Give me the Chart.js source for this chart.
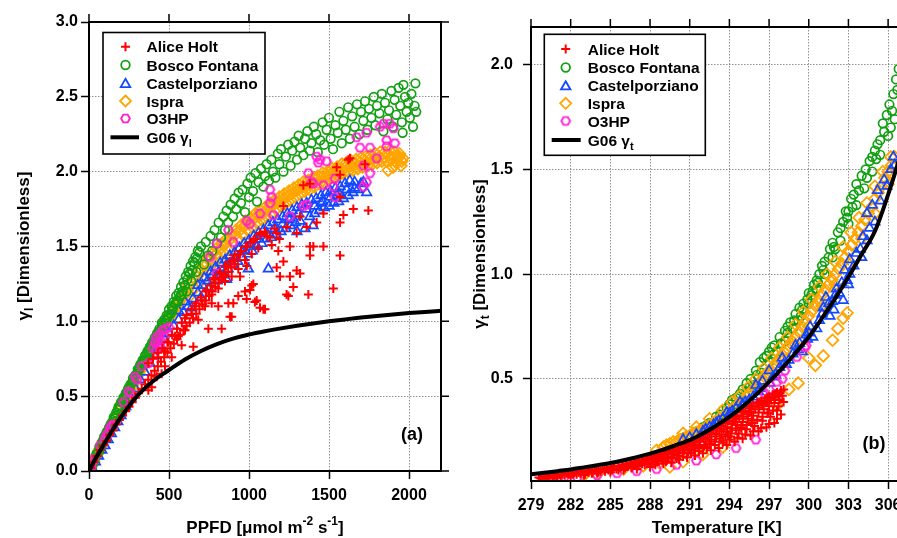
<!DOCTYPE html>
<html><head><meta charset="utf-8">
<script src="https://cdn.jsdelivr.net/npm/chart.js@4/dist/chart.umd.min.js"></script>
<style>
html,body{margin:0;padding:0;background:#fff;overflow:hidden;width:897px;height:538px;position:relative}
#ca{position:absolute;left:0;top:0}
#cb{position:absolute;left:450px;top:0}
</style></head><body>
<canvas id="ca" width="470" height="538"></canvas>
<canvas id="cb" width="490" height="538"></canvas>
<script>
// ---------- tick labels ----------
const aXTicks = [0, 500, 1000, 1500, 2000];
const aYTicks = [0, 0.5, 1.0, 1.5, 2.0, 2.5, 3.0];
const bXTicks = [279, 282, 285, 288, 291, 294, 297, 300, 303, 306];
const bYTicks = [0.5, 1.0, 1.5, 2.0];
const siteNames = ['Alice Holt', 'Bosco Fontana', 'Castelporziano', 'Ispra', 'O3HP'];

// ---------- panel (a): PPFD vs gamma_l (flat x,y pairs) ----------
const aAliceHolt = [
10,0.02, 30,0.06, 50,0.10, 70,0.14, 90,0.17, 110,0.20, 130,0.24, 150,0.27, 170,0.31, 190,0.34, 210,0.37, 230,0.40, 250,0.43, 270,0.46, 290,0.49, 310,0.52, 330,0.55, 350,0.58, 370,0.61, 390,0.64, 410,0.67, 430,0.70, 450,0.73, 470,0.76, 490,0.79, 510,0.82, 530,0.85, 550,0.88, 570,0.91, 590,0.94, 610,0.97, 630,0.99, 650,1.02, 670,1.05, 690,1.08, 710,1.11, 730,1.14, 750,1.17, 770,1.20, 790,1.23, 810,1.26, 830,1.28, 850,1.31, 870,1.33, 890,1.36, 910,1.38, 930,1.41,
400,0.75, 430,0.79, 460,0.82, 490,0.86, 520,0.91, 550,0.95, 580,0.99, 610,1.04, 640,1.08, 670,1.12, 700,1.16, 730,1.20, 760,1.24, 790,1.29, 820,1.33, 850,1.37, 880,1.40, 910,1.44, 950,1.47, 980,1.50, 1010,1.53, 1040,1.55, 1070,1.58, 1100,1.60, 1130,1.56, 1160,1.62, 1190,1.55,
1631,2.09, 1548,2.03, 1569,1.98, 1340,1.91, 1381,1.92, 1215,1.77, 1569,1.83, 1652,1.75, 1746,1.74, 1590,1.71, 1465,1.72, 1423,1.66, 1360,1.63, 1319,1.70, 1298,1.59, 1235,1.63, 1173,1.59, 1110,1.57, 1069,1.59, 1027,1.54, 986,1.50, 944,1.45, 902,1.41, 860,1.37, 819,1.32, 777,1.28, 735,1.21, 1256,1.50, 1381,1.50, 1465,1.50, 1569,1.44, 1527,1.22, 1215,1.40, 1173,1.36, 1298,1.34, 1319,1.32, 1256,1.30, 1194,1.30, 1277,1.23, 1246,1.17, 1371,1.18, 1027,1.25, 1006,1.21, 1048,1.14, 1069,1.09, 1090,1.08, 985,1.15, 902,1.12, 881,1.03, 944,1.30, 986,1.37, 840,1.30, 1037,1.13, 1100,1.08, 892,1.03, 829,0.95, 746,0.95, 652,0.83, 454,0.65, 475,0.70, 423,0.63, 392,0.56, 371,0.54, 517,0.76, 579,0.84, 600,0.94, 558,0.90, 683,1.01, 642,1.05, 725,1.10, 767,1.12, 808,1.10, 871,1.12, 933,1.17, 975,1.20, 1017,1.24, 475,0.80, 496,0.86, 538,0.90, 600,1.02, 662,1.10, 704,1.14, 767,1.18, 808,1.22, 850,1.27, 892,1.30, 933,1.35, 975,1.41, 1017,1.45, 1058,1.49, 1142,1.51, 1183,1.47, 371,0.72, 433,0.76, 1621,2.08, 1725,2.05, 1569,1.66, 1402,1.50, 1381,1.44, 1235,1.18
];
const aBoscoFontana = [
5,0.01, 15,0.04, 30,0.07, 45,0.11, 60,0.13, 75,0.17, 90,0.21, 105,0.24, 120,0.27, 135,0.31, 150,0.33, 165,0.37, 180,0.41, 195,0.44, 210,0.46, 225,0.50, 240,0.53, 255,0.55, 270,0.59, 285,0.63, 300,0.65, 315,0.69, 330,0.72, 345,0.74, 360,0.78, 375,0.81, 390,0.84, 405,0.86, 420,0.89, 435,0.93, 450,0.95, 465,0.97, 480,1.01, 495,1.04, 510,1.05, 525,1.09, 540,1.12, 555,1.13, 570,1.17, 585,1.20, 600,1.24, 615,1.28, 630,1.32, 645,1.34, 660,1.39, 675,1.42, 690,1.46,
20,0.03, 40,0.09, 70,0.15, 100,0.22, 130,0.29, 160,0.35, 190,0.42, 220,0.48, 250,0.56, 280,0.61, 310,0.67, 340,0.73, 370,0.80, 400,0.85, 430,0.91, 460,0.98, 490,1.02, 520,1.07, 550,1.14, 580,1.18, 610,1.20, 640,1.27, 670,1.33, 700,1.50, 720,1.38,
10,0.02, 25,0.05, 35,0.08, 50,0.12, 65,0.16, 80,0.19, 95,0.23, 110,0.26, 125,0.29, 140,0.32, 155,0.36, 170,0.39, 185,0.43, 200,0.46, 215,0.49, 230,0.52, 245,0.55, 260,0.58, 275,0.62, 290,0.64, 305,0.68, 320,0.71, 335,0.74, 350,0.77, 365,0.80, 380,0.83, 395,0.86, 410,0.89, 425,0.92, 440,0.95, 455,0.99, 470,1.01, 485,1.04, 500,1.08, 515,1.10, 530,1.13, 545,1.17, 560,1.19, 575,1.23, 590,1.26, 605,1.30, 620,1.33, 635,1.37, 650,1.40, 665,1.43, 680,1.47,
730,1.53, 745,1.44, 760,1.57, 770,1.47, 785,1.61, 800,1.52, 810,1.66, 825,1.56, 840,1.70, 850,1.61, 860,1.74, 870,1.66, 885,1.78, 900,1.70, 910,1.82, 920,1.75, 935,1.86, 950,1.79, 960,1.88, 975,1.73, 990,1.92, 1000,1.83, 1010,1.96, 1025,1.87, 1040,1.99, 1050,1.80, 1060,1.93, 1075,2.02, 1090,1.90, 1100,1.97, 1110,2.05, 1125,1.94, 1140,2.08, 1150,2.00, 1165,1.96, 1180,2.12, 1190,2.05, 1200,2.15, 1215,2.00, 1230,2.10, 1245,2.18, 1260,2.04, 1270,2.14, 1285,2.20, 1300,2.08, 1310,2.24, 1320,2.16, 1340,2.11, 1350,2.22, 1365,2.27, 1380,2.14, 1390,2.19, 1405,2.30, 1420,2.25, 1430,2.13, 1445,2.21, 1460,2.33, 1470,2.18, 1485,2.28, 1500,2.36, 1510,2.22, 1525,2.15, 1540,2.31, 1555,2.26, 1565,2.40, 1580,2.19, 1590,2.34, 1605,2.28, 1620,2.43, 1630,2.22, 1645,2.37, 1660,2.30, 1675,2.45, 1690,2.25, 1700,2.40, 1715,2.34, 1725,2.47, 1740,2.28, 1750,2.42, 1765,2.36, 1780,2.50, 1790,2.31, 1800,2.44, 1815,2.39, 1830,2.52, 1840,2.27, 1850,2.46, 1865,2.35, 1875,2.41, 1890,2.54, 1900,2.30, 1910,2.48, 1920,2.38, 1935,2.56, 1945,2.44, 1955,2.33, 1965,2.58, 1975,2.50, 1985,2.40, 1995,2.46, 2005,2.36, 2015,2.52, 2025,2.30, 2035,2.44, 2040,2.59, 2045,2.40, 1960,2.26
];
const aCastelporziano = [
20,0.02, 40,0.06, 60,0.10, 80,0.14, 100,0.17, 120,0.21, 140,0.25, 160,0.29, 180,0.33, 200,0.37, 230,0.43, 260,0.49, 290,0.55, 320,0.61, 350,0.66, 380,0.72, 410,0.77, 440,0.83, 470,0.88, 500,0.92, 530,0.97, 560,1.01, 590,1.06, 620,1.10, 650,1.15, 680,1.19, 710,1.24, 740,1.27, 770,1.31,
560,1.07, 600,1.13, 640,1.09, 680,1.24, 700,1.16, 720,1.29, 750,1.22, 760,1.33, 790,1.36, 800,1.27, 820,1.39, 840,1.31, 850,1.41, 870,1.35, 880,1.44, 900,1.38, 910,1.46, 930,1.40, 940,1.49, 960,1.43, 970,1.52, 990,1.45, 1000,1.54, 1020,1.47, 1030,1.57, 1050,1.50, 1060,1.59, 1080,1.52, 1090,1.61, 1110,1.55, 1120,1.64, 1140,1.56, 1150,1.66, 1170,1.58, 1180,1.68, 1200,1.60, 1210,1.70, 1230,1.62, 1240,1.72, 1260,1.64, 1270,1.74, 1290,1.66, 1300,1.76, 1320,1.67, 1330,1.78, 1350,1.62, 1360,1.79, 1380,1.70, 1390,1.81, 1410,1.72, 1420,1.82, 1440,1.74, 1450,1.84, 1470,1.76, 1480,1.86, 1500,1.77, 1510,1.87, 1530,1.79, 1540,1.89, 1560,1.80, 1570,1.90, 1590,1.82, 1600,1.92, 1620,1.84, 1630,1.94, 1650,1.86, 1660,1.93, 1680,1.88, 1700,1.92, 1715,1.93, 1735,1.86, 1250,1.68, 1450,1.79, 1550,1.84,
810,1.33, 860,1.38, 910,1.42, 960,1.47, 1010,1.51, 1060,1.55, 1110,1.59, 1160,1.62, 1210,1.65, 1260,1.69, 1310,1.72, 1360,1.75, 1410,1.77, 1460,1.80, 1510,1.83, 1560,1.86, 1610,1.88, 1660,1.89,
996,1.35, 1121,1.35, 860,1.28, 1400,1.64, 1300,1.60
];
const aIspra = [
20,0.04, 40,0.09, 60,0.13, 80,0.18, 100,0.21, 120,0.26, 140,0.30, 160,0.35, 180,0.38, 200,0.43, 220,0.47, 240,0.51, 260,0.55, 280,0.59, 300,0.63, 320,0.67, 340,0.71, 360,0.75, 380,0.79, 400,0.83, 420,0.87, 440,0.91, 460,0.95, 480,0.99, 500,1.02, 520,1.05, 540,1.09, 560,1.12, 580,1.15, 600,1.18,
30,0.06, 50,0.11, 70,0.15, 90,0.20, 110,0.24, 130,0.28, 150,0.32, 170,0.36, 190,0.41, 210,0.45, 230,0.49, 250,0.53, 270,0.57, 290,0.61, 310,0.65, 330,0.69, 350,0.73, 370,0.77, 390,0.81, 410,0.85, 430,0.89, 450,0.93, 470,0.97, 490,1.00, 510,1.04, 530,1.07, 550,1.10, 570,1.14, 590,1.17,
620,1.25, 630,1.17, 650,1.29, 660,1.22, 680,1.33, 690,1.26, 710,1.38, 720,1.30, 740,1.42, 750,1.35, 770,1.45, 780,1.39, 800,1.49, 810,1.42, 830,1.52, 840,1.46, 860,1.55, 870,1.48, 890,1.58, 900,1.52, 920,1.61, 930,1.55, 950,1.64, 960,1.58, 980,1.67, 990,1.61, 1010,1.69, 1020,1.63, 1040,1.72, 1050,1.66, 1070,1.74, 1080,1.68, 1100,1.76, 1110,1.70, 1130,1.79, 1140,1.72, 1160,1.81, 1170,1.75, 1190,1.83, 1200,1.77, 1220,1.85, 1230,1.79, 1250,1.87, 1260,1.81, 1280,1.89, 1290,1.83, 1310,1.91, 1320,1.85, 1340,1.93, 1350,1.87, 1370,1.94, 1380,1.88, 1400,1.96, 1410,1.90, 1430,1.97, 1440,1.92, 1460,1.99, 1470,1.93, 1490,2.00, 1500,1.95, 1520,2.02, 1530,1.96, 1550,2.03, 1560,1.97, 1580,2.05, 1590,1.99, 1610,2.06, 1620,2.00, 1640,2.07, 1650,2.01, 1670,2.08, 1680,2.02, 1700,2.09, 1710,2.03, 1730,2.10, 1740,2.04, 1760,2.11, 1770,2.05, 1790,2.12, 1800,2.06, 1820,2.13, 1830,2.07, 1850,2.13, 1860,2.07, 1880,2.14, 1890,2.08, 1910,2.13, 1920,2.06, 1940,2.12, 1950,2.04, 1930,2.09, 1960,2.09, 1900,2.03, 1870,2.01,
615,1.21, 645,1.26, 675,1.30, 705,1.34, 735,1.38, 765,1.42, 795,1.45, 825,1.49, 855,1.52, 885,1.55, 915,1.58, 945,1.61, 975,1.64, 1005,1.66, 1035,1.69, 1065,1.71, 1095,1.73, 1125,1.76, 1155,1.78, 1185,1.80, 1215,1.82, 1245,1.84, 1275,1.86, 1305,1.88, 1335,1.90, 1365,1.91, 1395,1.93, 1425,1.95, 1455,1.96, 1485,1.97, 1515,1.99, 1545,2.00, 1575,2.02, 1605,2.03, 1635,2.04, 1665,2.05, 1695,2.06, 1725,2.07, 1755,2.08, 1785,2.09, 1815,2.10, 1845,2.10, 1875,2.11, 1905,2.10, 1935,2.10, 1955,2.07
];
const aO3HP = [
5,0.01, 15,0.03, 20,0.06, 30,0.08, 69,0.17, 100,0.22, 110,0.24, 120,0.25, 131,0.29, 140,0.30, 150,0.31, 215,0.46, 246,0.53, 260,0.52, 287,0.63, 300,0.61, 330,0.70, 371,0.72, 400,0.82, 412,0.86, 420,0.89, 430,0.84, 440,0.91, 450,0.87, 460,0.94, 470,0.90, 480,0.95, 420,0.81, 445,0.83, 500,0.96,
756,1.43, 798,1.52, 798,1.32, 871,1.61, 902,1.53, 986,1.67, 1006,1.65, 1069,1.72, 1131,1.88, 1142,1.83, 1131,1.79, 1152,1.71, 1256,1.70, 1340,1.77, 1360,1.78, 1371,1.99, 1392,1.93, 1402,1.92, 1423,2.10, 1444,2.08, 1433,2.06, 1465,1.91, 1485,2.07, 1527,1.90, 1537,1.83, 1537,1.955, 1673,2.23, 1694,2.16, 1715,2.04, 1715,1.90, 1735,2.26, 1735,1.93, 1756,2.16, 1756,1.99, 1798,2.09, 1819,2.30, 1840,2.32, 1860,2.21, 1860,2.17, 1881,2.32, 1902,2.29, 1912,2.19
];
const aG06X = [0, 50, 100, 150, 200, 300, 400, 500, 600, 700, 800, 900, 1000, 1100, 1200, 1300, 1400, 1500, 1600, 1700, 1800, 1900, 2000, 2100, 2200];
const aG06Y = [0, 0.10, 0.19, 0.28, 0.36, 0.50, 0.60, 0.675, 0.745, 0.802, 0.848, 0.884, 0.912, 0.934, 0.953, 0.970, 0.985, 1.000, 1.013, 1.025, 1.036, 1.046, 1.055, 1.063, 1.070];

// ---------- panel (b): Temperature vs gamma_t ----------
const bAliceHolt = [
279.6,0.03, 279.9,0.035, 280.2,0.035, 280.5,0.04, 280.8,0.04, 281.1,0.045, 281.4,0.045, 281.7,0.05, 282.0,0.05, 282.3,0.055, 282.6,0.055, 282.9,0.06, 283.2,0.06, 283.5,0.065, 283.8,0.065, 284.1,0.07, 284.4,0.07, 284.7,0.075, 285.0,0.08, 285.3,0.085, 285.6,0.085, 285.9,0.09, 286.2,0.095, 286.5,0.10,
281.0,0.03, 282.0,0.035, 283.0,0.04, 284.0,0.05, 285.0,0.055, 286.0,0.065,
279.75,0.025, 280.05,0.03, 280.35,0.03, 280.65,0.035, 280.95,0.035, 281.25,0.04, 281.55,0.04, 281.85,0.045, 282.15,0.045, 282.45,0.045, 282.75,0.05, 283.05,0.05, 283.35,0.055, 283.65,0.055, 283.95,0.06, 284.25,0.06, 284.55,0.065, 284.85,0.065, 285.15,0.07, 285.45,0.07, 285.75,0.075, 286.05,0.08, 286.35,0.085, 286.65,0.09, 286.95,0.10, 287.25,0.10, 287.55,0.105, 287.85,0.115, 288.15,0.12, 288.45,0.125, 288.75,0.13, 289.05,0.14, 289.35,0.145, 289.65,0.15, 289.95,0.155, 290.25,0.165, 290.55,0.17, 290.85,0.18, 291.15,0.185, 291.45,0.195, 291.75,0.205, 292.05,0.215, 292.35,0.22, 292.65,0.235, 292.95,0.24, 293.25,0.25, 293.55,0.26, 293.85,0.27, 294.15,0.285, 294.45,0.295, 294.75,0.31, 295.05,0.32, 295.35,0.33, 295.65,0.345, 295.95,0.355, 296.25,0.365, 296.55,0.38, 296.85,0.39, 297.15,0.40, 297.45,0.41, 297.75,0.42,
286.8,0.105, 287.1,0.11, 287.4,0.115, 287.7,0.12, 288.0,0.13, 288.3,0.135, 288.6,0.14, 288.9,0.145, 289.2,0.15, 289.5,0.16, 289.8,0.165, 290.1,0.175, 290.4,0.18, 290.7,0.19, 291.0,0.195, 291.3,0.205, 291.6,0.215, 291.9,0.225, 292.2,0.235, 292.5,0.245, 292.8,0.255, 293.1,0.265, 293.4,0.275, 293.7,0.29, 294.0,0.30, 294.3,0.315, 294.6,0.325, 294.9,0.34, 295.2,0.35, 295.5,0.36, 295.8,0.375, 296.1,0.385, 296.4,0.395, 296.7,0.405, 297.0,0.415, 297.3,0.425, 297.6,0.435, 297.9,0.445,
286.6,0.08, 287.0,0.09, 287.4,0.095, 287.8,0.10, 288.2,0.11, 288.6,0.115, 289.0,0.125, 289.4,0.13, 289.8,0.14, 290.2,0.15, 290.6,0.16, 291.0,0.165, 291.4,0.175, 291.8,0.185, 292.2,0.20, 292.6,0.21, 293.0,0.225, 293.4,0.235, 293.8,0.25, 294.2,0.265, 294.6,0.28, 295.0,0.295, 295.4,0.31, 295.8,0.325, 296.2,0.34, 296.6,0.355, 297.0,0.37, 297.4,0.385, 297.8,0.40, 298.0,0.42,
287.0,0.07, 288.0,0.08, 289.0,0.095, 289.6,0.10, 290.2,0.115, 290.8,0.125, 291.4,0.135, 292.0,0.145, 292.6,0.16, 293.2,0.17, 293.8,0.185, 294.4,0.20, 295.0,0.215, 295.6,0.23, 296.2,0.25, 296.8,0.27, 297.4,0.29, 297.9,0.33,
288.4,0.09, 289.2,0.105, 290.0,0.12, 290.5,0.13, 291.1,0.145, 291.7,0.155, 292.3,0.17, 292.9,0.185, 293.5,0.195, 294.0,0.21, 294.6,0.22, 295.2,0.235, 295.8,0.25, 296.4,0.265, 297.0,0.285, 297.6,0.31, 296.9,0.34, 295.7,0.30, 294.9,0.27, 293.9,0.23,
293.5,0.205, 294.1,0.225, 294.7,0.24, 295.3,0.26, 295.9,0.275, 296.5,0.30, 297.1,0.32, 297.6,0.35, 294.5,0.31, 295.5,0.34, 296.5,0.375,
288.1,0.10, 288.5,0.105, 288.9,0.115, 289.3,0.12, 289.7,0.125, 290.1,0.135, 290.5,0.145, 290.9,0.15, 291.3,0.16, 291.7,0.17, 292.1,0.18, 292.5,0.19, 292.9,0.20, 293.3,0.215, 293.7,0.225, 294.1,0.24, 294.5,0.255, 294.9,0.265, 295.3,0.28, 295.7,0.29, 296.1,0.305, 296.5,0.32, 296.9,0.335, 297.3,0.35, 297.7,0.37, 298.1,0.39,
283.1,0.045, 283.6,0.05, 284.1,0.055, 284.6,0.06, 285.1,0.065, 285.6,0.065, 286.1,0.075, 286.6,0.075, 287.1,0.085, 287.6,0.09,
293.25,0.28, 293.85,0.30, 294.45,0.32, 295.05,0.345, 295.65,0.37, 296.25,0.39, 296.85,0.41, 297.45,0.43, 298.1,0.45
];
const bBoscoFontana = [
290.5,0.22, 291.5,0.25, 292.0,0.27, 292.5,0.29, 293.0,0.32, 293.5,0.35, 294.0,0.38, 294.5,0.41, 295.0,0.45, 295.3,0.48, 295.6,0.50, 296.0,0.54, 296.3,0.58, 296.6,0.60, 297.0,0.63, 297.4,0.66, 297.8,0.70, 298.2,0.73, 298.6,0.77, 299.0,0.81, 299.3,0.84, 299.6,0.86, 300.0,0.91, 300.4,0.95, 300.8,1.00, 301.2,1.06, 301.6,1.12, 301.8,1.15, 302.2,1.20, 302.6,1.25, 302.8,1.30, 303.2,1.36, 303.6,1.43, 304.0,1.47, 304.3,1.50, 304.6,1.54, 305.0,1.59, 305.4,1.64, 305.6,1.72, 305.9,1.76, 306.1,1.81, 306.4,1.86, 306.6,1.93, 306.8,1.98,
294.5,0.38, 295.2,0.42, 295.8,0.47, 296.4,0.53, 297.0,0.58, 297.6,0.63, 298.2,0.68, 298.8,0.74, 299.4,0.80, 300.0,0.86, 300.6,0.93, 301.2,1.00, 301.8,1.08, 302.4,1.16, 303.0,1.24, 303.6,1.33, 304.2,1.41, 304.8,1.49, 305.4,1.57, 306.0,1.66, 306.5,1.74,
292.3,0.28, 293.3,0.33, 293.8,0.36, 294.2,0.40, 294.8,0.43, 295.5,0.46, 296.1,0.52, 296.8,0.61, 297.2,0.65, 297.9,0.67, 298.4,0.72, 298.9,0.78, 299.5,0.83, 299.9,0.88, 300.3,0.92, 300.7,0.96, 301.1,1.02, 301.5,1.08, 301.9,1.13, 302.4,1.22, 302.9,1.27, 303.3,1.32, 303.8,1.40, 304.4,1.46, 305.1,1.55, 305.7,1.68, 306.3,1.78, 306.7,1.88,
297.4,0.62, 298.4,0.75, 299.2,0.78, 300.2,0.90, 301.0,1.04, 302.0,1.12, 303.4,1.38, 304.8,1.56, 305.2,1.62, 306.2,1.70, 303.0,1.30, 300.6,0.97
];
const bCastelporziano = [
291.0,0.22, 291.5,0.235, 292.0,0.25, 292.5,0.27, 293.0,0.29, 293.5,0.31, 294.0,0.335, 294.5,0.36, 295.0,0.38, 295.5,0.40, 295.8,0.414, 296.2,0.44, 296.5,0.49, 297.05,0.48, 297.5,0.52, 298.1,0.57, 298.3,0.57, 298.8,0.62, 299.3,0.67, 299.8,0.71, 300.1,0.75, 300.3,0.70, 300.8,0.78, 301.3,0.89, 301.6,0.80, 301.9,0.83, 302.3,0.91, 302.6,0.875, 302.7,1.02, 303.1,1.00, 303.1,1.07, 303.6,1.10, 304.1,1.18, 304.4,1.16, 304.4,1.29, 304.8,1.33, 305.2,1.40, 305.7,1.45, 306.2,1.50, 306.4,1.56,
293.8,0.34, 294.8,0.39, 296.0,0.47, 297.0,0.54, 298.0,0.60, 299.0,0.66, 300.0,0.72, 301.0,0.81, 302.0,0.90, 303.0,0.95, 304.0,1.08, 305.0,1.25, 299.5,0.63, 301.5,0.86, 302.5,0.96, 292.8,0.28, 290.5,0.21,
292.2,0.26, 293.2,0.30, 294.2,0.345, 295.2,0.39, 296.3,0.455, 297.3,0.51, 297.8,0.555, 298.5,0.59, 299.2,0.64, 299.9,0.69, 300.6,0.74, 301.1,0.84, 301.8,0.87, 302.1,0.93, 302.9,0.97, 303.4,1.04, 303.9,1.12, 304.6,1.22, 305.4,1.35, 305.9,1.42, 306.5,1.52
];
const bIspra = [
288.5,0.16, 289.0,0.175, 289.5,0.19, 290.0,0.20, 290.5,0.215, 291.0,0.23, 291.5,0.245, 292.0,0.26, 292.5,0.28, 293.0,0.30, 293.5,0.32, 294.0,0.345, 294.5,0.37, 295.0,0.40, 295.5,0.43, 296.0,0.46, 296.5,0.50, 297.0,0.54, 297.5,0.575, 298.0,0.615, 298.5,0.66, 299.0,0.70, 299.5,0.75, 300.0,0.80, 300.5,0.85, 301.0,0.90, 301.5,0.95, 302.0,1.00, 302.5,1.05, 303.0,1.11, 303.5,1.17, 304.0,1.23, 304.5,1.29, 305.0,1.36, 305.5,1.42, 306.0,1.49, 306.5,1.56,
290.5,0.24, 291.5,0.27, 292.5,0.31, 293.5,0.35, 294.2,0.39, 294.8,0.42, 295.4,0.46, 296.0,0.50, 296.6,0.55, 297.2,0.60, 297.8,0.65, 298.4,0.70, 299.0,0.76, 299.6,0.82, 300.2,0.88, 300.8,0.94, 301.4,1.00, 302.0,1.06, 302.6,1.13, 303.2,1.20, 303.8,1.27, 304.4,1.34, 305.0,1.42, 305.6,1.49, 306.2,1.56,
293.0,0.285, 294.0,0.33, 295.0,0.385, 296.0,0.45, 297.0,0.515, 298.0,0.585, 299.0,0.665, 300.0,0.75, 301.0,0.85, 302.0,0.95, 303.0,1.05, 304.0,1.17, 305.0,1.29, 306.0,1.43,
289.25,0.185, 289.75,0.20, 290.25,0.21, 290.75,0.225, 291.25,0.24, 291.75,0.255, 292.25,0.27, 292.75,0.29, 293.25,0.31, 293.75,0.335, 294.25,0.36, 294.75,0.385, 295.25,0.415, 295.75,0.445, 296.25,0.48, 296.75,0.52, 297.25,0.555, 297.75,0.595, 298.25,0.64, 298.75,0.68, 299.25,0.725, 299.75,0.775, 300.25,0.825, 300.75,0.875, 301.25,0.925, 301.75,0.975, 302.25,1.025, 302.75,1.08, 303.25,1.14, 303.75,1.20, 304.25,1.26, 304.75,1.32, 305.25,1.39, 305.75,1.46, 306.25,1.52,
297.6,0.375, 299.2,0.48, 300.5,0.565, 301.1,0.61, 301.8,0.685, 302.2,0.74, 302.6,0.79, 302.9,0.815, 300.0,0.60, 298.5,0.45,
288.7,0.10, 289.5,0.08, 287.5,0.085, 286.0,0.07, 284.0,0.045, 283.0,0.04, 290.5,0.105, 292.0,0.14, 293.5,0.175
];
const bO3HP = [
280.5,0.025, 281.0,0.02, 281.5,0.03, 282.5,0.03, 284.0,0.04, 285.5,0.05, 287.0,0.06, 288.5,0.07, 290.0,0.09, 291.5,0.11, 293.0,0.14, 294.5,0.17, 296.0,0.21,
296.7,0.43, 297.6,0.486, 298.2,0.54, 299.1,0.605, 299.7,0.65, 299.8,0.66, 297.0,0.45, 298.0,0.50
];
const bG06X = [279, 280, 281, 282, 283, 284, 285, 286, 287, 288, 289, 290, 291, 292, 293, 294, 295, 296, 297, 298, 299, 300, 301, 302, 303, 304, 305, 306, 307];
const bG06Y = [0.045, 0.052, 0.060, 0.068, 0.078, 0.088, 0.099, 0.112, 0.127, 0.144, 0.163, 0.185, 0.208, 0.240, 0.277, 0.319, 0.368, 0.424, 0.486, 0.552, 0.624, 0.700, 0.790, 0.885, 0.987, 1.095, 1.205, 1.38, 1.58];

// ---------- styling ----------
const FONT = '"Liberation Sans", Arial, Helvetica, sans-serif';
const COL = {red:'#ff0000', green:'#12a012', blue:'#1448ff', orange:'#ffa500', magenta:'#ff1ed2'};
Chart.defaults.font.family = FONT;
Chart.defaults.font.weight = 'bold';
Chart.defaults.color = '#000';

function hexCanvas(color, r, lw){
  const s = Math.ceil(2*r + lw + 2);
  const c = document.createElement('canvas'); c.width = s; c.height = s;
  const g = c.getContext('2d'); g.strokeStyle = color; g.lineWidth = lw;
  g.beginPath();
  for (let i = 0; i < 6; i++){ const a = i*Math.PI/3; const x = s/2 + r*Math.cos(a), y = s/2 + r*Math.sin(a); if (i) g.lineTo(x,y); else g.moveTo(x,y); }
  g.closePath(); g.stroke(); return c;
}
const HEX = hexCanvas(COL.magenta, 4.4, 1.8);

function toXY(flat){ const r = []; for (let i = 0; i < flat.length; i += 2) r.push({x: flat[i], y: flat[i+1]}); return r; }
function sc(label, flat, style, color, radius, bw, order){
  return {type:'scatter', label, data: toXY(flat), pointStyle: style, pointRadius: radius, pointHoverRadius: radius,
    pointBorderColor: color, pointBackgroundColor: 'rgba(0,0,0,0)', pointBorderWidth: bw, showLine: false, order};
}
function curve(label, xs, ys){
  return {type:'line', label, data: xs.map((x,i)=>({x, y: ys[i]})), borderColor:'#000', borderWidth:4,
    pointRadius:0, cubicInterpolationMode:'monotone', fill:false, order:0};
}

function drawRich(ctx, parts, x, y, rot, align){
  ctx.save(); ctx.translate(x, y); ctx.rotate(rot || 0);
  let w = 0;
  parts.forEach(p => { ctx.font = 'bold ' + p[1] + 'px ' + FONT; w += ctx.measureText(p[0]).width; });
  let cx = align === 'left' ? 0 : -w/2;
  ctx.textBaseline = 'alphabetic'; ctx.textAlign = 'left'; ctx.fillStyle = '#000';
  parts.forEach(p => { ctx.font = 'bold ' + p[1] + 'px ' + FONT; ctx.fillText(p[0], cx, p[2] || 0); cx += ctx.measureText(p[0]).width; });
  ctx.restore();
}

function drawSym(ctx, kind, x, y){
  ctx.save(); ctx.lineWidth = 1.8; ctx.beginPath();
  if (kind === 'cross'){ ctx.strokeStyle = COL.red; ctx.lineWidth = 2; ctx.moveTo(x-4.5,y); ctx.lineTo(x+4.5,y); ctx.moveTo(x,y-4.5); ctx.lineTo(x,y+4.5); ctx.stroke(); }
  else if (kind === 'circle'){ ctx.strokeStyle = COL.green; ctx.arc(x,y,4.3,0,Math.PI*2); ctx.stroke(); }
  else if (kind === 'triangle'){ ctx.strokeStyle = COL.blue; const r = 5.5; for (let i=0;i<3;i++){ const a = i*2*Math.PI/3; const px = x + Math.sin(a)*r, py = y - Math.cos(a)*r + 1; if (i) ctx.lineTo(px,py); else ctx.moveTo(px,py);} ctx.closePath(); ctx.stroke(); }
  else if (kind === 'diamond'){ ctx.strokeStyle = COL.orange; const r = 5.5; ctx.moveTo(x,y-r); ctx.lineTo(x+r,y); ctx.lineTo(x,y+r); ctx.lineTo(x-r,y); ctx.closePath(); ctx.stroke(); }
  else if (kind === 'hex'){ ctx.drawImage(HEX, x - HEX.width/2, y - HEX.height/2); }
  ctx.restore();
}

function decorPlugin(cfg){
  return {
    id: 'decor' + cfg.name,
    afterDatasetsDraw(chart){
      const {ctx, chartArea: a, scales: {x, y}} = chart;
      ctx.save();
      ctx.strokeStyle = '#000'; ctx.lineWidth = 2;
      ctx.strokeRect(a.left, a.top, a.right - a.left, a.bottom - a.top);
      ctx.lineWidth = 1.5; ctx.beginPath();
      x.ticks.forEach(t => { const px = x.getPixelForValue(t.value); ctx.moveTo(px, a.top); ctx.lineTo(px, a.top - 8); });
      if (cfg.rightTicks) y.ticks.forEach(t => { const py = y.getPixelForValue(t.value); ctx.moveTo(a.right, py); ctx.lineTo(a.right + 8, py); });
      ctx.stroke(); ctx.restore();
    },
    afterDraw(chart){
      const ctx = chart.ctx;
      drawRich(ctx, cfg.xTitle, cfg.xTitlePos[0], cfg.xTitlePos[1], 0);
      drawRich(ctx, cfg.yTitle, cfg.yTitlePos[0], cfg.yTitlePos[1], -Math.PI/2);
      drawRich(ctx, [[cfg.tag, 18, 0]], cfg.tagPos[0], cfg.tagPos[1], 0);
      const L = cfg.legend;
      ctx.save(); ctx.fillStyle = '#fff'; ctx.fillRect(L.box[0], L.box[1], L.box[2], L.box[3]);
      ctx.strokeStyle = '#000'; ctx.lineWidth = 1.6; ctx.strokeRect(L.box[0], L.box[1], L.box[2], L.box[3]); ctx.restore();
      const kinds = ['cross', 'circle', 'triangle', 'diamond', 'hex'];
      siteNames.forEach((n, i) => {
        const yy = L.rows[i];
        drawSym(ctx, kinds[i], L.symX, yy);
        drawRich(ctx, [[n, 15.5, 0]], L.textX, yy + 5.5, 0, 'left');
      });
      const yy = L.rows[5];
      ctx.save(); ctx.strokeStyle = '#000'; ctx.lineWidth = 4; ctx.beginPath(); ctx.moveTo(L.line[0], yy); ctx.lineTo(L.line[1], yy); ctx.stroke(); ctx.restore();
      drawRich(ctx, L.lastLabel, L.textX, yy + 5.5, 0, 'left');
    }
  };
}

function axisCommon(ticksArr, fmt, pad, fixSize, isX){
  return {
    type: 'linear',
    afterBuildTicks: s => { s.ticks = ticksArr.map(v => ({value: v})); },
    afterFit: s => { if (isX) s.height = fixSize; else s.width = fixSize; },
    ticks: {font: {size: 16, weight: 'bold', family: FONT}, color: '#000', padding: pad, callback: v => fmt(v), maxRotation: 0, autoSkip: false},
    grid: {color: 'rgba(110,110,110,0.75)', lineWidth: 1, tickColor: '#000', tickWidth: 1.5, tickLength: 8, tickBorderDash: [], drawTicks: true},
    border: {display: false, dash: [1.5, 1.5]}
  };
}

// ---------- chart (a) ----------
new Chart(document.getElementById('ca'), {
  type: 'scatter',
  data: {datasets: [
    curve('G06 γl', aG06X, aG06Y),
    sc(siteNames[0], aAliceHolt, 'cross', COL.red, 4.5, 2, 1),
    sc(siteNames[4], aO3HP, HEX, COL.magenta, 4.5, 1.8, 2),
    sc(siteNames[1], aBoscoFontana, 'circle', COL.green, 4.3, 1.7, 3),
    sc(siteNames[2], aCastelporziano, 'triangle', COL.blue, 5.5, 1.7, 4),
    sc(siteNames[3], aIspra, 'rectRot', COL.orange, 5.8, 1.8, 5)
  ]},
  options: {
    responsive: false, animation: false, devicePixelRatio: 1, events: [],
    layout: {padding: {left: 0, top: 22, right: 29, bottom: 0}},
    plugins: {legend: {display: false}, tooltip: {enabled: false}},
    scales: {
      x: Object.assign(axisCommon(aXTicks, v => String(v), 7, 67, true), {min: 0, max: 2200}),
      y: Object.assign(axisCommon(aYTicks, v => v.toFixed(1), 3, 89, false), {min: 0, max: 3.0})
    }
  },
  plugins: [decorPlugin({
    name: 'a', rightTicks: true,
    xTitle: [['PPFD [μmol m', 17, 0], ['-2', 12, -8], [' s', 17, 0], ['-1', 12, -8], [']', 17, 0]],
    xTitlePos: [265, 533],
    yTitle: [['γ', 17, 0], ['l', 12, 4], [' [Dimensionless]', 17, 0]],
    yTitlePos: [29, 246],
    tag: '(a)', tagPos: [412, 440],
    legend: {box: [103, 32.5, 162, 121.5], rows: [46.7, 65, 83.3, 101, 118.5, 137.3], symX: 125.5, textX: 146.5, line: [110.5, 139],
      lastLabel: [['G06 ', 15.5, 0], ['γ', 15.5, 0], ['l', 11, 4]]}
  })]
});

// ---------- chart (b) ----------
new Chart(document.getElementById('cb'), {
  type: 'scatter',
  data: {datasets: [
    curve('G06 γt', bG06X, bG06Y),
    sc(siteNames[0], bAliceHolt, 'cross', COL.red, 4.5, 2, 1),
    sc(siteNames[4], bO3HP, HEX, COL.magenta, 4.5, 1.8, 2),
    sc(siteNames[2], bCastelporziano, 'triangle', COL.blue, 5.5, 1.7, 3),
    sc(siteNames[3], bIspra, 'rectRot', COL.orange, 5.8, 1.8, 4),
    sc(siteNames[1], bBoscoFontana, 'circle', COL.green, 4.3, 1.7, 5)
  ]},
  options: {
    responsive: false, animation: false, devicePixelRatio: 1, events: [],
    layout: {padding: {left: 0, top: 27, right: 38, bottom: 0}},
    plugins: {legend: {display: false}, tooltip: {enabled: false}},
    scales: {
      x: Object.assign(axisCommon(bXTicks, v => String(v), 7, 57, true), {min: 279, max: 307.05}),
      y: Object.assign(axisCommon(bYTicks, v => v.toFixed(1), 10, 81, false), {min: 0.013, max: 2.18})
    }
  },
  plugins: [decorPlugin({
    name: 'b', rightTicks: false,
    xTitle: [['Temperature [K]', 17, 0]],
    xTitlePos: [266.7, 533],
    yTitle: [['γ', 17, 0], ['t', 12, 4], [' [Dimensionless]', 17, 0]],
    yTitlePos: [35, 254],
    tag: '(b)', tagPos: [424, 449],
    legend: {box: [94.3, 34.3, 161, 121], rows: [49, 67.5, 85.7, 103.3, 121, 140], symX: 115.7, textX: 137.7, line: [101.7, 130.7],
      lastLabel: [['G06 ', 15.5, 0], ['γ', 15.5, 0], ['t', 11, 4]]}
  })]
});
</script>
</body></html>
